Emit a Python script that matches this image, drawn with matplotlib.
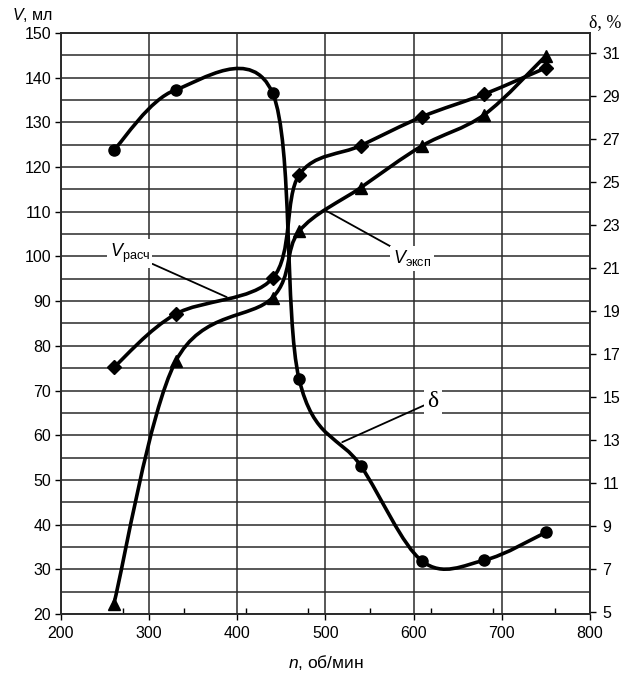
import numpy as np
import matplotlib
matplotlib.use("Agg")
import matplotlib.pyplot as plt
from matplotlib.path import Path
from matplotlib.patches import PathPatch
from matplotlib.ticker import MultipleLocator, FixedLocator

plt.rcParams['font.family'] = ['Liberation Sans Narrow', 'Liberation Sans', 'DejaVu Sans']
plt.rcParams['mathtext.fontset'] = 'custom'
plt.rcParams['mathtext.rm'] = 'Liberation Sans'
plt.rcParams['mathtext.it'] = 'Liberation Sans:italic'

# данные
n_rpm = [260, 330, 440, 470, 540, 610, 680, 750]
v_calc = [75.2, 87.1, 95.1, 118.2, 124.8, 131.3, 136.3, 142.2]   # V расч, мл
v_exp = [22.3, 76.5, 90.8, 105.6, 115.4, 124.8, 131.7, 144.9]    # V эксп, мл
delta = [26.5, 29.3, 29.15, 15.85, 11.8, 7.35, 7.4, 8.7]         # δ, %

x_ticks = [200, 300, 400, 500, 600, 700, 800]
x_minor = [270, 340, 410, 480, 550, 620, 690, 760]
v_ticks = list(range(20, 151, 10))
d_ticks = list(range(5, 32, 2))


def smooth_path(x, y):
    # сглаженная линия как в Excel: кубические Безье через точки
    pts = np.column_stack([x, y]).astype(float)
    ext = np.vstack([pts[0], pts, pts[-1]])
    verts = [pts[0]]
    codes = [Path.MOVETO]
    for i in range(len(pts) - 1):
        p0, p1, p2, p3 = ext[i], ext[i + 1], ext[i + 2], ext[i + 3]
        verts += [p1 + (p2 - p0) / 6, p2 - (p3 - p1) / 6, p2]
        codes += [Path.CURVE4] * 3
    return Path(verts, codes)


fig = plt.figure(figsize=(6.32, 6.73), dpi=100)
ax = fig.add_axes([0.0965, 0.0877, 0.837, 0.8633])
ax.set_xlim(200, 800)
ax.set_ylim(20, 150)
ax2 = ax.twinx()
ax2.set_ylim(4.9, 31.95)

grid_kw = dict(color='#2a2a2a', linewidth=1.1)
ax.xaxis.set_major_locator(FixedLocator(x_ticks))
ax.xaxis.set_minor_locator(FixedLocator(x_minor))
ax.yaxis.set_major_locator(FixedLocator(v_ticks))
ax.yaxis.set_minor_locator(MultipleLocator(5))
ax.grid(True, which='major', axis='x', **grid_kw)
ax.grid(True, which='both', axis='y', **grid_kw)
ax.set_axisbelow(True)

ax.tick_params(axis='x', which='major', direction='out', length=4, width=1,
               labelsize=11.5, pad=5)
ax.tick_params(axis='x', which='minor', direction='in', length=4, width=1)
ax.tick_params(axis='y', which='major', direction='out', length=4, width=1,
               labelsize=11.5, pad=3)
ax.tick_params(axis='y', which='minor', length=0)
ax2.yaxis.set_major_locator(FixedLocator(d_ticks))
ax2.tick_params(axis='y', direction='out', length=4, width=1, labelsize=11.5, pad=5)

for a in (ax, ax2):
    for s in a.spines.values():
        s.set_color('#2a2a2a')
        s.set_linewidth(1.2)

# кривые
line_kw = dict(fill=False, edgecolor='black', linewidth=2.6, capstyle='round')
ax.add_patch(PathPatch(smooth_path(n_rpm, v_calc), **line_kw))
ax.add_patch(PathPatch(smooth_path(n_rpm, v_exp), **line_kw))
ax2.add_patch(PathPatch(smooth_path(n_rpm, delta), **line_kw))

ax.plot(n_rpm, v_calc, linestyle='none', marker='D', markersize=7, color='black')
ax.plot(n_rpm, v_exp, linestyle='none', marker='^', markersize=9, color='black')
ax2.plot(n_rpm, delta, linestyle='none', marker='o', markersize=8, color='black')

# подписи кривых
box = dict(boxstyle='square,pad=0.15', facecolor='white', edgecolor='none')
arrow = dict(arrowstyle='-', color='black', linewidth=1.3, shrinkA=0, shrinkB=0)
ax.annotate(r'$\mathit{V}_{\mathrm{расч}}$', xy=(388, 90.9), xytext=(278, 100.6),
            fontsize=13, ha='center', va='center', bbox=box, arrowprops=arrow)
ax.annotate(r'$\mathit{V}_{\mathrm{эксп}}$', xy=(501, 110.2), xytext=(598, 99.6),
            fontsize=13, ha='center', va='center', bbox=box, arrowprops=arrow)
ax2.annotate('δ', xy=(519, 12.9), xytext=(622, 14.8), fontsize=17,
             family=['Liberation Serif', 'DejaVu Serif'],
             ha='center', va='center', bbox=box, arrowprops=arrow)

# подписи осей
fig.text(0.019, 0.977, r'$\mathit{V}$, мл', fontsize=11.5, ha='left', va='center')
fig.text(0.932, 0.967, 'δ, %', fontsize=13, ha='left', va='center',
         family=['Liberation Serif', 'DejaVu Serif'])
fig.text(0.515, 0.016, r'$\mathit{n}$, об/мин', fontsize=12.5, ha='center', va='center')

fig.savefig('out.png', dpi=100)
